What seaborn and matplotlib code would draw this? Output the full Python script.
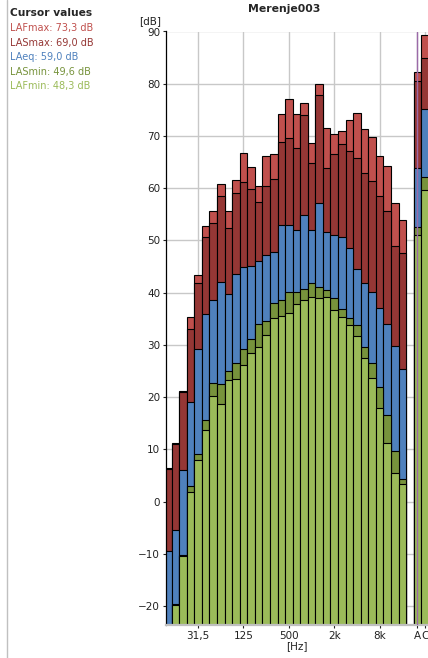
import numpy as np
import pandas as pd
import matplotlib
matplotlib.use("Agg")
import matplotlib.pyplot as plt
from matplotlib.lines import Line2D
import seaborn as sns

# 1/3 octave bands + overall A / C values
bands = ["12,5", "16", "20", "25", "31,5", "40", "50", "63", "80", "100",
         "125", "160", "200", "250", "315", "400", "500", "630", "800", "1k",
         "1,25k", "1,6k", "2k", "2,5k", "3,15k", "4k", "5k", "6,3k", "8k", "10k",
         "12,5k", "16k"]
extra = ["A", "C"]

lafmax = [6.4, 11.2, 21.2, 35.3, 43.3, 52.7, 55.6, 60.9, 55.7, 61.5,
          66.8, 64.1, 60.5, 66.1, 66.6, 74.2, 77.0, 74.2, 76.4, 68.6,
          80.0, 71.5, 70.4, 70.9, 73.1, 74.4, 71.4, 69.9, 66.1, 64.2,
          57.2, 53.9, 82.3, 89.4]
lasmax = [6.2, 11.0, 21.0, 33.0, 41.9, 50.6, 53.4, 58.6, 52.3, 59.0,
          61.1, 59.8, 57.3, 60.4, 61.7, 68.9, 69.7, 67.7, 74.0, 64.9,
          77.9, 63.9, 66.6, 68.5, 67.1, 65.8, 62.9, 61.3, 58.5, 55.6,
          48.9, 47.6, 80.5, 85.0]
laeq = [-9.5, -5.4, 6.1, 19.0, 29.2, 35.9, 38.6, 42.0, 39.7, 43.5,
        45.0, 45.2, 46.0, 47.2, 47.8, 53.0, 53.0, 52.0, 54.8, 52.0,
        57.1, 51.7, 51.1, 50.7, 48.5, 44.6, 41.8, 40.1, 37.1, 34.1,
        29.8, 25.4, 63.8, 75.1]
lasmin = [-30.0, -19.6, -10.2, 3.1, 9.2, 15.6, 22.7, 22.6, 25.1, 26.5,
          29.2, 31.1, 34.0, 34.5, 38.1, 38.7, 40.2, 40.2, 40.8, 41.8,
          41.0, 40.6, 38.9, 36.8, 35.2, 33.8, 29.6, 26.5, 22.0, 16.6,
          9.8, 4.4, 52.5, 62.1]
lafmin = [-30.0, -19.8, -10.4, 1.8, 7.9, 13.8, 20.3, 18.7, 23.2, 23.5,
          26.2, 28.5, 29.7, 32.0, 35.2, 35.5, 36.1, 37.9, 38.6, 39.2,
          38.9, 39.1, 36.6, 35.4, 33.8, 31.8, 27.6, 23.6, 18.0, 11.2,
          5.5, 3.4, 51.0, 59.7]

series = ["LAFmax", "LASmax", "LAeq", "LASmin", "LAFmin"]
colors = ["#c0504d", "#953735", "#4f81bd", "#77933c", "#9bbb59"]
cursor_text = ["LAFmax: 73,3 dB", "LASmax: 69,0 dB", "LAeq: 59,0 dB",
               "LASmin: 49,6 dB", "LAFmin: 48,3 dB"]
tick_labels = ["31,5", "125", "500", "2k", "8k", "A", "C"]

df = pd.DataFrame({"band": bands + extra, "LAFmax": lafmax, "LASmax": lasmax,
                   "LAeq": laeq, "LASmin": lasmin, "LAFmin": lafmin})
order = bands + [" "] + extra

sns.set_style("white")
plt.rcParams['font.family'] = ['DejaVu Sans']

W, H = 428, 658
base = -40
fig = plt.figure(figsize=(W / 100, H / 100), dpi=100)
ax = fig.add_axes([165.7 / W, 33 / H, 1 - 165.7 / W, 593.5 / H])

# bars drawn from the bottom, tallest layer first
for name, col in zip(series, colors):
    sns.barplot(x=df["band"], y=df[name] - base, order=order, color=col,
                saturation=1, width=1, edgecolor="black", linewidth=0.8,
                errorbar=None, bottom=base, ax=ax)

ax.set_xlim(-0.28, 34.39)
ax.set_ylim(-23.6, 90)
ax.set_yticks(np.arange(-20, 91, 10))
ax.set_xticks([order.index(t) for t in tick_labels])
ax.set_xticklabels(tick_labels)
ax.grid(True, color="#c8c8c8", lw=1)
ax.set_axisbelow(True)
ax.axvline(order.index("A"), color="#9b6aa8", lw=1, zorder=5)

for s in ["top", "right"]:
    ax.spines[s].set_visible(False)
ax.spines["left"].set_color("black")
ax.spines["left"].set_linewidth(0.9)
ax.spines["bottom"].set_color("#bfbfbf")
ax.spines["bottom"].set_linewidth(1.6)
ax.tick_params(axis="both", bottom=True, left=True, labelsize=7.5,
               length=2.5, width=0.8, pad=1.5, colors="#222222")
ax.set_xlabel("[Hz]", fontsize=7.5, labelpad=0.5, color="#222222")
ax.set_ylabel("")

fig.text(283.7 / W, 1 - 9 / H, "Merenje003", fontsize=7.8, weight="bold",
         ha="center", va="center")
fig.text(150.3 / W, 1 - 21 / H, "[dB]", fontsize=7.5, ha="center",
         va="center", color="#222222")

# cursor values panel
fig.add_artist(Line2D([7.3 / W, 7.3 / W], [0, 1], color="#c0c0c0", lw=1))
fig.text(10 / W, 1 - 13 / H, "Cursor values", fontsize=7.7, weight="bold",
         va="center")
for i, (t, col) in enumerate(zip(cursor_text, colors)):
    fig.text(10 / W, 1 - (28.3 + 14.5 * i) / H, t, fontsize=7, color=col,
             va="center")

fig.savefig("out.png", dpi=100)
